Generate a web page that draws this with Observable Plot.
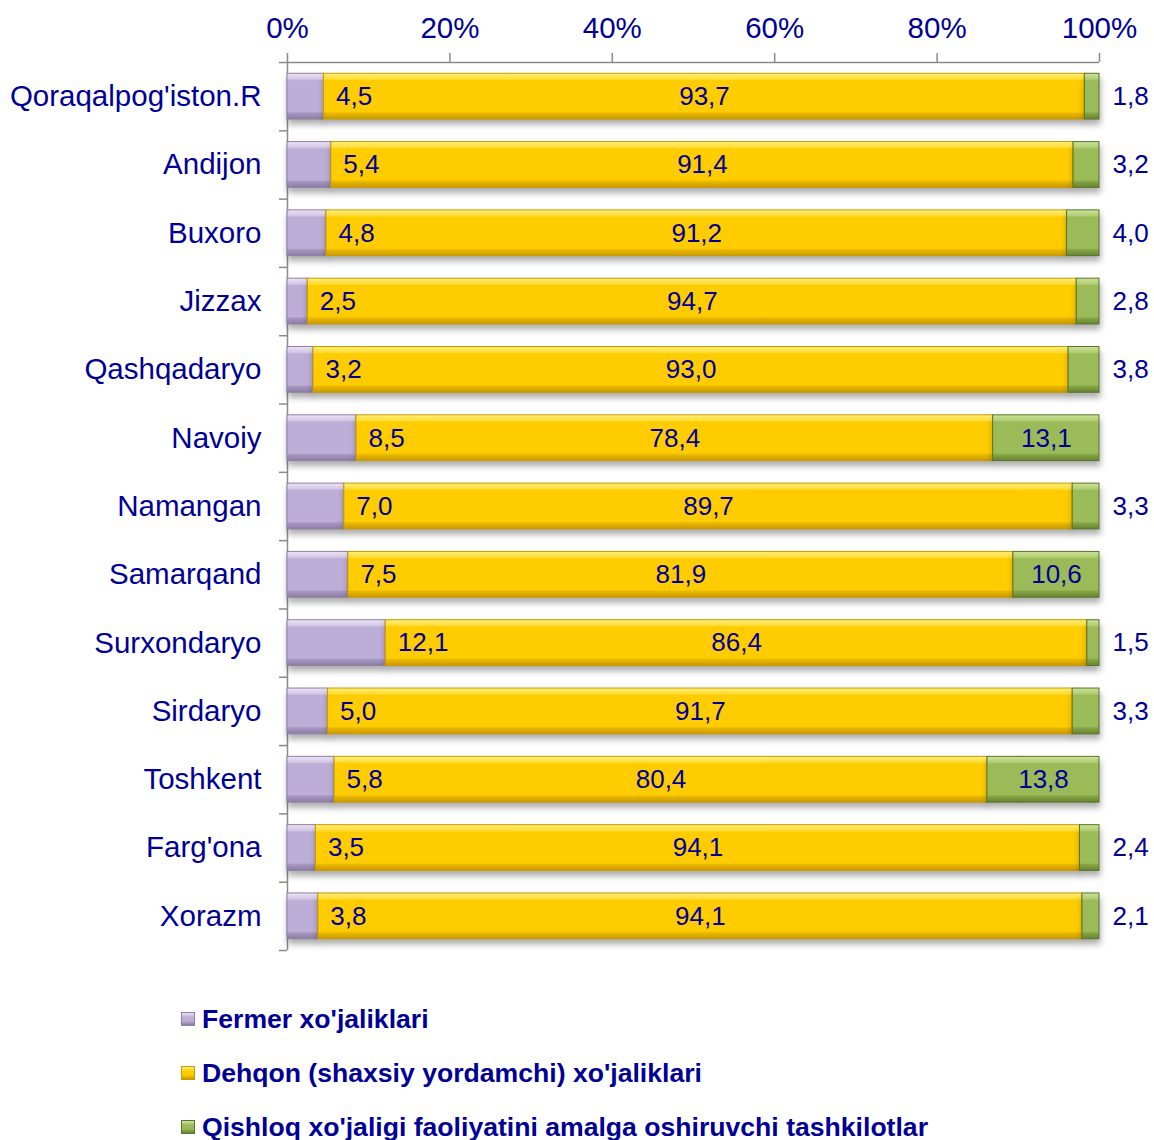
<!DOCTYPE html>
<html><head><meta charset="utf-8">
<script src="https://cdn.jsdelivr.net/npm/d3@7"></script>
<script src="https://cdn.jsdelivr.net/npm/@observablehq/plot@0.6"></script>
<style>
  html,body{margin:0;padding:0;background:#fff;overflow:hidden;}
  body{font-family:"Liberation Sans",Arial,sans-serif;width:1154px;height:1140px;}
  #chart svg g[aria-label="rect"]{filter:drop-shadow(1px 5px 3px rgba(0,0,0,0.32));}
  #legend{margin-top:17px;margin-left:181px;}
  .lg{height:54px;line-height:54px;font-size:26.6px;font-weight:bold;color:#000096;white-space:nowrap;}
  .sw{display:inline-block;width:12px;height:12px;margin-right:7px;vertical-align:middle;position:relative;top:-2px;border:1px solid;}
</style>
</head><body>
<div id="chart"></div>
<div id="legend"></div>
<script>
// ---- data ----
const regions = ["Qoraqalpog'iston.R","Andijon","Buxoro","Jizzax","Qashqadaryo","Navoiy","Namangan","Samarqand","Surxondaryo","Sirdaryo","Toshkent","Farg'ona","Xorazm"];
const fermer    = [4.5, 5.4, 4.8, 2.5, 3.2, 8.5, 7.0, 7.5, 12.1, 5.0, 5.8, 3.5, 3.8];
const dehqon    = [93.7, 91.4, 91.2, 94.7, 93.0, 78.4, 89.7, 81.9, 86.4, 91.7, 80.4, 94.1, 94.1];
const tashkilot = [1.8, 3.2, 4.0, 2.8, 3.8, 13.1, 3.3, 10.6, 1.5, 3.3, 13.8, 2.4, 2.1];
const seriesNames = ["Fermer xo'jaliklari","Dehqon (shaxsiy yordamchi) xo'jaliklari","Qishloq xo'jaligi faoliyatini amalga oshiruvchi tashkilotlar"];
const xTicks = [0, 20, 40, 60, 80, 100];

// ---- styles ----
const navy = "#000096";
const axisGrey = "#8a8a8a";
const grads = [
  {id:"g0", stroke:"#8f80a8", stops:[[0,"#ebe4f3"],[0.13,"#d2c6e5"],[0.16,"#bcaed6"],[0.84,"#bcaed6"],[0.87,"#a797c2"],[1,"#8c7da2"]]},
  {id:"g1", stroke:"#c89a00", stops:[[0,"#fff07a"],[0.13,"#ffdc33"],[0.16,"#ffcc00"],[0.84,"#ffcc00"],[0.87,"#ebb800"],[1,"#c99900"]]},
  {id:"g2", stroke:"#5a742a", stops:[[0,"#cde39a"],[0.13,"#b1cd72"],[0.16,"#9bbb59"],[0.84,"#9bbb59"],[0.87,"#86a646"],[1,"#67832f"]]}
];
const fmt = v => v.toFixed(1).replace(".", ",");

// ---- table built from arrays ----
const n = regions.length;
const segs = [];
regions.forEach((r, i) => {
  const vals = [fermer[i], dehqon[i], tashkilot[i]];
  let acc = 0;
  vals.forEach((v, s) => { segs.push({region: r, i, s, x1: acc, x2: acc + v, v}); acc += v; });
});
const rows = regions.map((r, i) => ({region: r, i, f: fermer[i], d: dehqon[i], t: tashkilot[i]}));

const defsMark = () => {
  const defs = d3.create("svg:defs");
  grads.forEach(g => {
    const lg = defs.append("linearGradient").attr("id", g.id).attr("x1", 0).attr("y1", 0).attr("x2", 0).attr("y2", 1);
    g.stops.forEach(([o, c]) => lg.append("stop").attr("offset", o).attr("stop-color", c));
  });
  return defs.node();
};

const bandTop = 0.165, bandBot = 0.835;
const labelFont = 26;
const axisFont = 29.5;

const chart = Plot.plot({
  width: 1154,
  height: 975,
  marginTop: 62,
  marginBottom: 25,
  marginLeft: 287,
  marginRight: 55,
  x: {domain: [0, 100], axis: null},
  y: {domain: [0, n], reverse: true, axis: null},
  style: {fontFamily: "'Liberation Sans', Arial, sans-serif", background: "#fff", overflow: "visible"},
  marks: [
    defsMark,
    // axis frame
    Plot.ruleY([0], {y: d => d, x1: 0, x2: 100, stroke: axisGrey, strokeWidth: 1.5}),
    Plot.ruleX([0], {x: d => d, y1: 0, y2: n, stroke: axisGrey, strokeWidth: 1.5}),
    Plot.ruleX(xTicks, {x: d => d, y1: 0, y2: 0, insetTop: -9, stroke: axisGrey, strokeWidth: 1.5}),
    Plot.ruleY(d3.range(n + 1), {y: d => d, x1: 0, x2: 0, insetLeft: -8, stroke: axisGrey, strokeWidth: 1.5}),
    // tick labels
    Plot.text(xTicks, {x: d => d, y: 0, text: d => d + "%", dy: -34, fontSize: axisFont, fill: navy}),
    Plot.text(regions, {x: 0, y: (d, i) => i + 0.5, text: d => d, textAnchor: "end", dx: -26, fontSize: axisFont, fill: navy}),
    // stacked bars
    ...grads.map((g, s) => Plot.rectX(segs.filter(d => d.s === s), {
      x1: "x1", x2: "x2", y1: d => d.i + bandTop, y2: d => d.i + bandBot,
      fill: `url(#${g.id})`, stroke: g.stroke, strokeWidth: 1
    })),
    // data labels
    Plot.text(rows, {x: "f", y: d => d.i + 0.5, text: d => fmt(d.f), textAnchor: "start", dx: 12, fontSize: labelFont, fill: navy}),
    Plot.text(rows, {x: d => d.f + d.d / 2, y: d => d.i + 0.5, text: d => fmt(d.d), fontSize: labelFont, fill: navy}),
    Plot.text(rows.filter(d => d.t >= 10), {x: d => 100 - d.t / 2, y: d => d.i + 0.5, text: d => fmt(d.t), fontSize: labelFont, fill: navy}),
    Plot.text(rows.filter(d => d.t < 10), {x: 100, y: d => d.i + 0.5, text: d => fmt(d.t), textAnchor: "start", dx: 13, fontSize: labelFont, fill: navy})
  ]
});
document.getElementById("chart").appendChild(chart);

// ---- legend ----
const legend = d3.select("#legend");
seriesNames.forEach((name, s) => {
  const g = grads[s];
  const row = legend.append("div").attr("class", "lg");
  row.append("span").attr("class", "sw")
    .style("border-color", g.stroke)
    .style("background", `linear-gradient(to bottom, ${g.stops[0][1]} 0%, ${g.stops[2][1]} 35%, ${g.stops[3][1]} 65%, ${g.stops[5][1]} 100%)`);
  row.append("span").text(name);
});
</script>
</body></html>
